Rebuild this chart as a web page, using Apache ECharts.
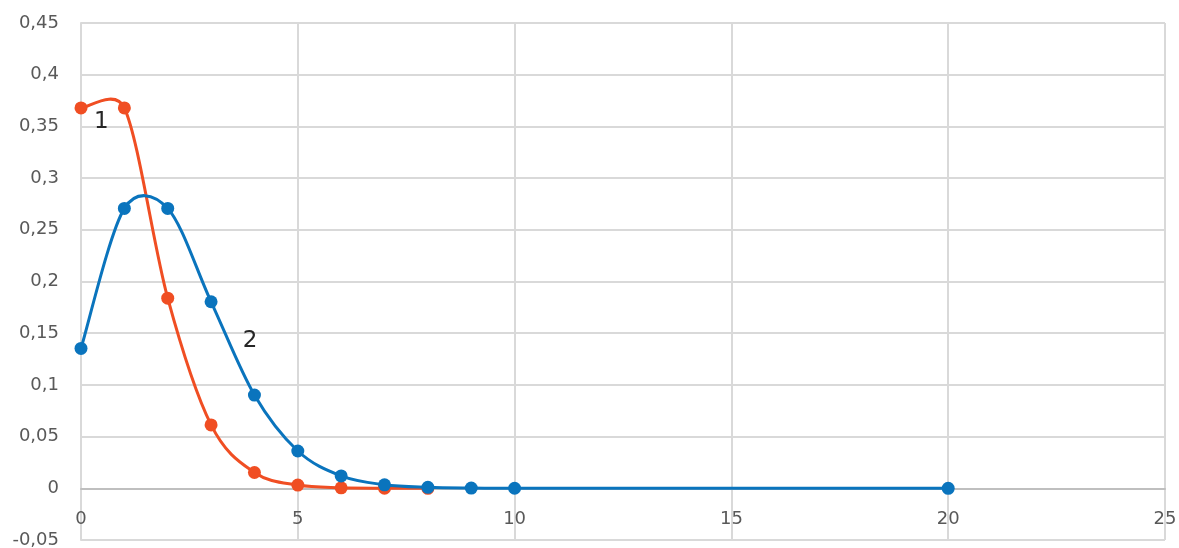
<!DOCTYPE html>
<html>
<head>
<meta charset="utf-8">
<script src="https://cdn.jsdelivr.net/npm/echarts@6/dist/echarts.min.js"></script>
<style>
  html, body { margin: 0; padding: 0; background: #ffffff; }
  #chart { width: 1179px; height: 548px; }
</style>
</head>
<body>
<div id="chart"></div>
<script>
// Poisson probabilities, λ = 1 (curve 1) and λ = 2 (curve 2)
const xs1 = [0, 1, 2, 3, 4, 5, 6, 7, 8];
const ys1 = [0.3679, 0.3679, 0.1839, 0.0613, 0.0153, 0.0031, 0.0005, 0.0001, 0.00001];

const xs2 = [0, 1, 2, 3, 4, 5, 6, 7, 8, 9, 10, 20];
const ys2 = [0.1353, 0.2707, 0.2707, 0.1804, 0.0902, 0.0361, 0.0120, 0.0034, 0.0009, 0.0002, 0.00004, 0];

const xTicks = { min: 0, max: 25, step: 5 };
const yTicks = { min: -0.05, max: 0.45, step: 0.05 };

const curveLabels = ['1', '2'];
// where each curve's number sits, in data units
const curveLabelAt = [[0.47, 0.354], [3.9, 0.142]];

const colors = ['#f04e23', '#0a74bd'];
const textColor = '#595959';
const gridColor = '#d9d9d9';
const fontFamily = '"DejaVu Sans", "Open Sans", sans-serif';

const W = 1179, H = 548;
const gridBox = { left: 81, right: 14, top: 23, bottom: 8 };
const plotH = H - gridBox.top - gridBox.bottom;
// the x axis sits on y = 0, above the bottom edge of the plot
const xAxisOffset = -plotH * (0 - yTicks.min) / (yTicks.max - yTicks.min);

function pairs(xs, ys) {
  return xs.map((x, i) => [x, ys[i]]);
}

function fmt(v) {
  return String(+Number(v).toFixed(2)).replace('.', ',');
}

// Cardinal-spline path through pixel points; each handle is the
// neighbour chord / 6, capped at half of the segment it reaches into.
function splinePath(p) {
  const n = p.length;
  const dist = (a, b) => Math.hypot(b[0] - a[0], b[1] - a[1]);
  const tan = p.map((pt, i) => {
    const a = p[Math.max(i - 1, 0)];
    const b = p[Math.min(i + 1, n - 1)];
    return [(b[0] - a[0]) / 6, (b[1] - a[1]) / 6];
  });
  const capped = (t, maxLen) => {
    const len = Math.hypot(t[0], t[1]);
    const k = len > maxLen && len > 0 ? maxLen / len : 1;
    return [t[0] * k, t[1] * k];
  };
  let d = 'M' + p[0][0] + ' ' + p[0][1];
  for (let i = 0; i < n - 1; i++) {
    const seg = dist(p[i], p[i + 1]);
    const t0 = capped(tan[i], seg / 2);
    const t1 = capped(tan[i + 1], seg / 2);
    d += ' C' + (p[i][0] + t0[0]) + ' ' + (p[i][1] + t0[1]) + ' ' +
         (p[i + 1][0] - t1[0]) + ' ' + (p[i + 1][1] - t1[1]) + ' ' +
         p[i + 1][0] + ' ' + p[i + 1][1];
  }
  return d;
}

// Smoothed curve through a series' points, placed by the axes
function curveSeries(xs, ys, color, z) {
  return {
    type: 'custom',
    coordinateSystem: 'cartesian2d',
    data: pairs(xs, ys),
    encode: { x: 0, y: 1 },
    z: z,
    silent: true,
    renderItem: function (params, api) {
      if (params.dataIndex !== 0) return null;
      const pts = xs.map((x, i) => api.coord([x, ys[i]]));
      return {
        type: 'path',
        shape: { pathData: splinePath(pts) },
        style: { stroke: color, lineWidth: 3, fill: null, lineJoin: 'round' }
      };
    }
  };
}

function markerSeries(xs, ys, color, z, labelIdx) {
  return {
    type: 'scatter',
    data: pairs(xs, ys),
    symbol: 'circle',
    symbolSize: 13,
    itemStyle: { color: color, opacity: 1 },
    z: z,
    markPoint: {
      symbol: 'circle',
      symbolSize: 1,
      itemStyle: { color: 'rgba(0,0,0,0)' },
      label: {
        show: true,
        position: 'inside',
        formatter: curveLabels[labelIdx],
        color: '#262626',
        fontSize: 23,
        fontFamily: fontFamily
      },
      data: [{ coord: curveLabelAt[labelIdx] }]
    }
  };
}

const chart = echarts.init(document.getElementById('chart'), null, { renderer: 'canvas' });

chart.setOption({
  animation: false,
  backgroundColor: '#ffffff',
  grid: Object.assign({ containLabel: false, outerBoundsMode: 'none' }, gridBox),
  xAxis: {
    type: 'value',
    min: xTicks.min,
    max: xTicks.max,
    interval: xTicks.step,
    offset: xAxisOffset,
    axisLine: { show: true, onZero: false, lineStyle: { color: '#bfbfbf', width: 2 } },
    axisTick: { show: false },
    axisLabel: { color: textColor, fontSize: 18, fontFamily: fontFamily, margin: 22, formatter: fmt },
    splitLine: { show: true, lineStyle: { color: gridColor, width: 2 } }
  },
  yAxis: {
    type: 'value',
    min: yTicks.min,
    max: yTicks.max,
    interval: yTicks.step,
    axisLine: { show: true, onZero: false, lineStyle: { color: gridColor, width: 2 } },
    axisTick: { show: false },
    axisLabel: { color: textColor, fontSize: 18, fontFamily: fontFamily, margin: 22, formatter: fmt },
    splitLine: { show: true, lineStyle: { color: gridColor, width: 2 } }
  },
  series: [
    curveSeries(xs1, ys1, colors[0], 2),
    markerSeries(xs1, ys1, colors[0], 3, 0),
    curveSeries(xs2, ys2, colors[1], 4),
    markerSeries(xs2, ys2, colors[1], 5, 1)
  ]
});
</script>
</body>
</html>
